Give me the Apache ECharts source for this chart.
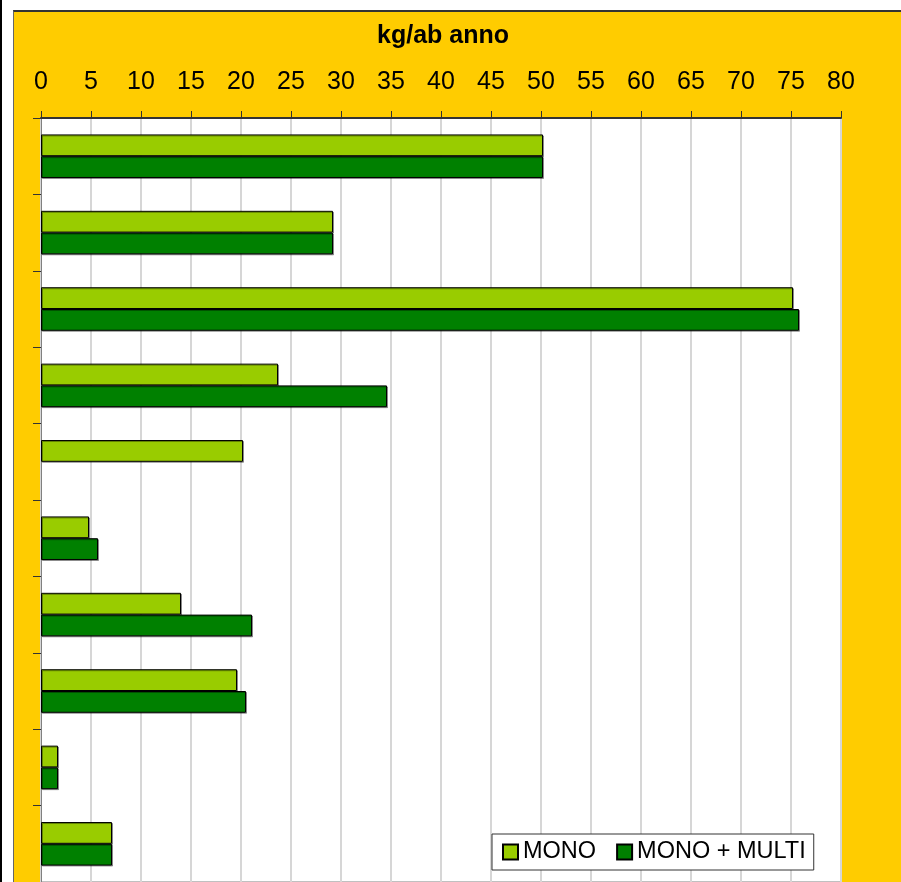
<!DOCTYPE html>
<html>
<head>
<meta charset="utf-8">
<script src="https://cdn.jsdelivr.net/npm/echarts@6/dist/echarts.min.js"></script>
<style>
  html, body { margin: 0; padding: 0; background: #fff; overflow: hidden; }
  .edge { position: absolute; left: 0; top: 0; width: 2px; height: 882px; background: #000; }
  .panel {
    position: absolute; left: 13px; top: 10px; width: 900px; height: 900px;
    background: #FFCC00; border-top: 2px solid #333; border-left: 1px solid #666;
  }
  #chart { position: absolute; left: 0; top: 0; width: 901px; height: 882px; }
</style>
</head>
<body>
<div class="edge"></div>
<div class="panel"></div>
<div id="chart"></div>
<script>
// categories (labels hidden in the original)
const categories = ['1', '2', '3', '4', '5', '6', '7', '8', '9', '10']
const mono = [50.2, 29.2, 75.2, 23.7, 20.2, 4.8, 14.0, 19.6, 1.7, 7.1]
const monoMulti = [50.2, 29.2, 75.8, 34.6, null, 5.7, 21.1, 20.5, 1.7, 7.1]
const xTicks = { min: 0, max: 80, interval: 5 }

const font = 'Liberation Sans, Arial, sans-serif'
let myChart = echarts.init(document.getElementById('chart'))

const barStyle = (color) => ({
  color: color,
  borderColor: '#000',
  borderWidth: 1,
  shadowColor: 'rgba(0,0,0,0.35)',
  shadowOffsetX: 1,
  shadowOffsetY: 1,
  shadowBlur: 0
})

let option = {
  backgroundColor: 'transparent',
  animation: false,
  title: {
    text: 'kg/ab anno',
    left: 438,
    textAlign: 'center',
    top: 19,
    textStyle: { fontFamily: font, fontSize: 25, fontWeight: 'bold', color: '#000' }
  },
  legend: {
    left: 492,
    top: 834,
    padding: [6, 8, 6, 10],
    backgroundColor: '#fff',
    borderColor: '#333',
    borderWidth: 1,
    borderRadius: 0,
    itemWidth: 15,
    itemHeight: 15,
    itemGap: 20,
    icon: 'rect',
    textStyle: { fontFamily: font, fontSize: 23.5, color: '#000' },
    data: ['MONO', 'MONO + MULTI']
  },
  grid: {
    left: 41,
    right: 60,
    top: 118,
    bottom: -4,
    show: true,
    backgroundColor: '#fff',
    borderColor: '#808080',
    borderWidth: 1
  },
  xAxis: {
    type: 'value',
    position: 'top',
    min: xTicks.min,
    max: xTicks.max,
    interval: xTicks.interval,
    axisLine: { show: true, lineStyle: { color: '#333', width: 2 } },
    axisTick: { show: true, length: 7, lineStyle: { color: '#333' } },
    axisLabel: { fontFamily: font, fontSize: 25, color: '#000', margin: 23 },
    splitLine: { show: true, lineStyle: { color: '#d6d6d6', width: 2 } }
  },
  yAxis: {
    type: 'category',
    data: categories,
    inverse: true,
    axisLine: { show: true, lineStyle: { color: '#808080', width: 1 } },
    axisTick: { show: true, length: 8, interval: 0, lineStyle: { color: '#333' } },
    axisLabel: { show: false }
  },
  series: [
    {
      name: 'MONO',
      type: 'bar',
      data: mono,
      barGap: '0%',
      barCategoryGap: '43%',
      itemStyle: barStyle('#99CC00')
    },
    {
      name: 'MONO + MULTI',
      type: 'bar',
      data: monoMulti,
      barGap: '0%',
      barCategoryGap: '43%',
      itemStyle: barStyle('#008000')
    }
  ]
}
myChart.setOption(option)
</script>
</body>
</html>
